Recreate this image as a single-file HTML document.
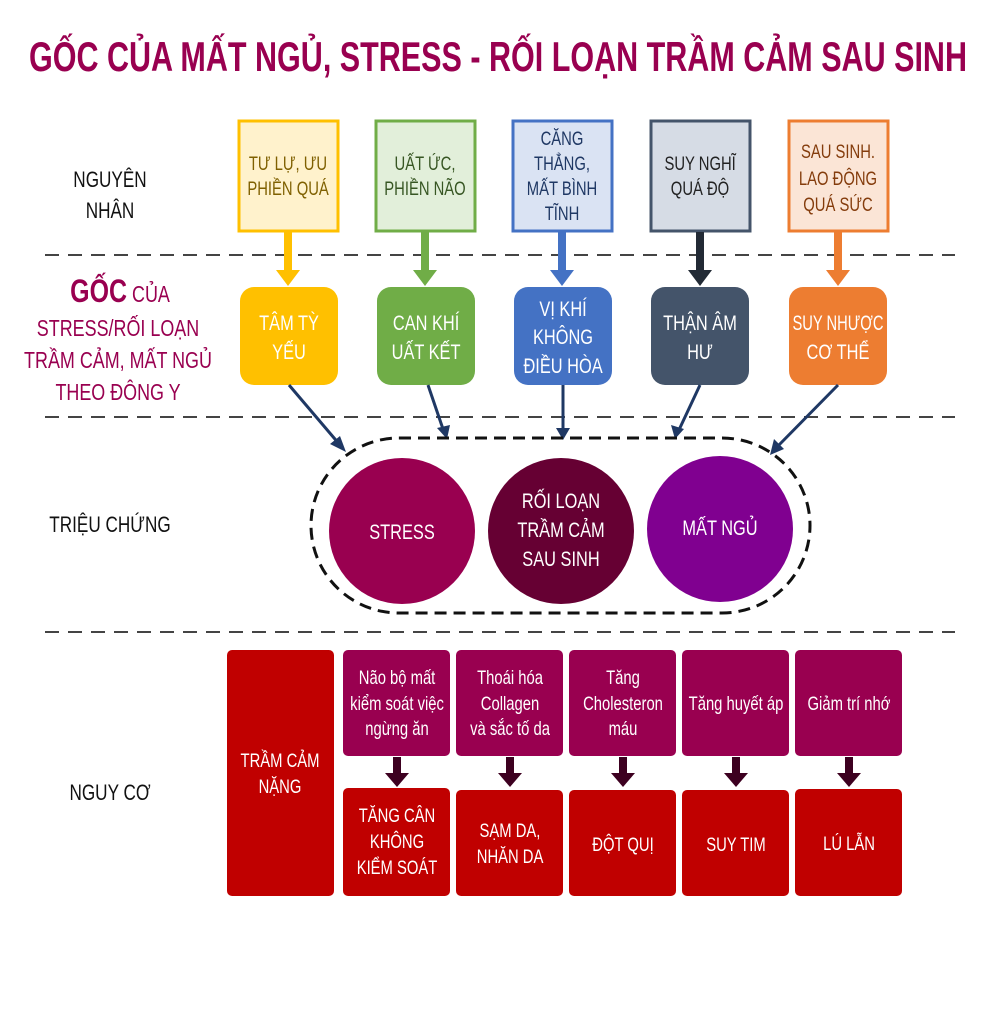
<!DOCTYPE html>
<html><head><meta charset="utf-8"><style>
html,body{margin:0;padding:0;background:#fff;}
svg{display:block;}
text{font-family:"Liberation Sans",sans-serif;transform-box:fill-box;transform-origin:center;transform:scaleX(0.78);}
text.t{transform:none;}
text.n{transform:scaleX(0.7);}
</style></head><body>
<svg width="997" height="1024" viewBox="0 0 997 1024" xmlns="http://www.w3.org/2000/svg">
<rect width="997" height="1024" fill="#fff"/>
<text class="t" x="498" y="71" text-anchor="middle" font-size="42" font-weight="bold" fill="#990050" textLength="938" lengthAdjust="spacingAndGlyphs">GỐC CỦA MẤT NGỦ, STRESS - RỐI LOẠN TRẦM CẢM SAU SINH</text>

<g stroke="#444" stroke-width="2" stroke-dasharray="14,9">
<line x1="45" y1="255" x2="955" y2="255"/>
<line x1="45" y1="417" x2="955" y2="417"/>
<line x1="45" y1="632" x2="955" y2="632"/>
</g>

<g font-size="22" text-anchor="middle" fill="#111">
<text x="110" y="187">NGUYÊN</text>
<text x="110" y="218">NHÂN</text>
<text x="110" y="532">TRIỆU CHỨNG</text>
<text x="110" y="800">NGUY CƠ</text>
</g>
<g text-anchor="middle" fill="#990050" font-size="23">
<text x="120" y="302"><tspan font-size="32" font-weight="bold">GỐC</tspan> CỦA</text>
<text x="118" y="336">STRESS/RỐI LOẠN</text>
<text x="118" y="368">TRẦM CẢM, MẤT NGỦ</text>
<text x="118" y="400">THEO ĐÔNG Y</text>
</g>

<g stroke-width="3">
<rect x="239" y="121" width="99" height="110" fill="#fff2cc" stroke="#ffc000"/>
<rect x="376" y="121" width="99" height="110" fill="#e2efda" stroke="#70ad47"/>
<rect x="513" y="121" width="99" height="110" fill="#dae3f3" stroke="#4472c4"/>
<rect x="651" y="121" width="99" height="110" fill="#d6dce5" stroke="#44546a"/>
<rect x="789" y="121" width="99" height="110" fill="#fbe5d6" stroke="#ed7d31"/>
</g>
<g font-size="19" text-anchor="middle">
<text x="288" y="170" fill="#7f6000">TƯ LỰ, ƯU</text><text x="288" y="195" fill="#7f6000">PHIỀN QUÁ</text>
<text x="425" y="170" fill="#375623">UẤT ỨC,</text><text x="425" y="195" fill="#375623">PHIỀN NÃO</text>
<text x="562" y="145" fill="#1f3864">CĂNG</text><text x="562" y="170" fill="#1f3864">THẲNG,</text><text x="562" y="195" fill="#1f3864">MẤT BÌNH</text><text x="562" y="220" fill="#1f3864">TĨNH</text>
<text x="700" y="170" fill="#222">SUY NGHĨ</text><text x="700" y="195" fill="#222">QUÁ ĐỘ</text>
<text x="838" y="158" fill="#843c0c">SAU SINH.</text><text x="838" y="185" fill="#843c0c">LAO ĐỘNG</text><text x="838" y="211" fill="#843c0c">QUÁ SỨC</text>
</g>
<g>
<rect x="284" y="232" width="8" height="38" fill="#ffc000"/><polygon points="276,270 300,270 288,286" fill="#ffc000"/>
<rect x="421" y="232" width="8" height="38" fill="#70ad47"/><polygon points="413,270 437,270 425,286" fill="#70ad47"/>
<rect x="558" y="232" width="8" height="38" fill="#4472c4"/><polygon points="550,270 574,270 562,286" fill="#4472c4"/>
<rect x="696" y="232" width="8" height="38" fill="#222a35"/><polygon points="688,270 712,270 700,286" fill="#222a35"/>
<rect x="834" y="232" width="8" height="38" fill="#ed7d31"/><polygon points="826,270 850,270 838,286" fill="#ed7d31"/>
</g>
<rect x="240" y="287" width="98" height="98" rx="14" fill="#ffc000"/>
<rect x="377" y="287" width="98" height="98" rx="14" fill="#70ad47"/>
<rect x="514" y="287" width="98" height="98" rx="14" fill="#4472c4"/>
<rect x="651" y="287" width="98" height="98" rx="14" fill="#44546a"/>
<rect x="789" y="287" width="98" height="98" rx="14" fill="#ed7d31"/>
<g font-size="21" text-anchor="middle" fill="#fff">
<text x="289" y="330">TÂM TỲ</text><text x="289" y="359">YẾU</text>
<text x="426" y="330">CAN KHÍ</text><text x="426" y="359">UẤT KẾT</text>
<text x="563" y="316">VỊ KHÍ</text><text x="563" y="344">KHÔNG</text><text x="563" y="373">ĐIỀU HÒA</text>
<text x="700" y="330">THẬN ÂM</text><text x="700" y="359">HƯ</text>
<text class="n" x="838" y="330">SUY NHƯỢC</text><text x="838" y="359">CƠ THỂ</text>
</g>
<g stroke="#1f3864" stroke-width="3" fill="none">
<line x1="289" y1="385" x2="340" y2="445"/>
<line x1="428" y1="385" x2="444" y2="432"/>
<line x1="563" y1="385" x2="563" y2="432"/>
<line x1="700" y1="385" x2="678" y2="432"/>
<line x1="838" y1="385" x2="776" y2="448"/>
</g>
<g fill="#1f3864">
<polygon points="346,452 330,444 340,436"/>
<polygon points="447,439 437,428 450,425"/>
<polygon points="563,440 556,428 570,428"/>
<polygon points="675,439 671,425 684,429"/>
<polygon points="770,455 774,439 784,449"/>
</g>
<rect x="311" y="438" width="499" height="175" rx="88" fill="none" stroke="#111" stroke-width="3" stroke-dasharray="12,7"/>
<circle cx="402" cy="531" r="73" fill="#990050"/>
<circle cx="561" cy="531" r="73" fill="#660033"/>
<circle cx="720" cy="529" r="73" fill="#800090"/>
<g font-size="21" text-anchor="middle" fill="#fff">
<text x="402" y="539">STRESS</text>
<text x="561" y="508">RỐI LOẠN</text><text x="561" y="537">TRẦM CẢM</text><text x="561" y="566">SAU SINH</text>
<text x="720" y="535">MẤT NGỦ</text>
</g>
<rect x="227" y="650" width="107" height="246" rx="5" fill="#c00000"/>
<g fill="#990050">
<rect x="343" y="650" width="107" height="106" rx="5"/>
<rect x="456" y="650" width="107" height="106" rx="5"/>
<rect x="569" y="650" width="107" height="106" rx="5"/>
<rect x="682" y="650" width="107" height="106" rx="5"/>
<rect x="795" y="650" width="107" height="106" rx="5"/>
</g>
<g fill="#c00000">
<rect x="343" y="788" width="107" height="108" rx="5"/>
<rect x="456" y="790" width="107" height="106" rx="5"/>
<rect x="569" y="790" width="107" height="106" rx="5"/>
<rect x="682" y="790" width="107" height="106" rx="5"/>
<rect x="795" y="789" width="107" height="107" rx="5"/>
</g>
<g fill="#3d0020">
<rect x="393" y="757" width="8" height="17"/><polygon points="385,773 409,773 397,787"/>
<rect x="506" y="757" width="8" height="17"/><polygon points="498,773 522,773 510,787"/>
<rect x="619" y="757" width="8" height="17"/><polygon points="611,773 635,773 623,787"/>
<rect x="732" y="757" width="8" height="17"/><polygon points="724,773 748,773 736,787"/>
<rect x="845" y="757" width="8" height="17"/><polygon points="837,773 861,773 849,787"/>
</g>
<g font-size="19" text-anchor="middle" fill="#fff">
<text x="280" y="767">TRẦM CẢM</text><text x="280" y="793">NẶNG</text>
<text x="397" y="684">Não bộ mất</text><text x="397" y="710">kiểm soát việc</text><text x="397" y="735">ngừng ăn</text>
<text x="510" y="684">Thoái hóa</text><text x="510" y="710">Collagen</text><text x="510" y="735">và sắc tố da</text>
<text x="623" y="684">Tăng</text><text x="623" y="710">Cholesteron</text><text x="623" y="735">máu</text>
<text x="736" y="710">Tăng huyết áp</text>
<text x="849" y="710">Giảm trí nhớ</text>
<text x="397" y="822">TĂNG CÂN</text><text x="397" y="848">KHÔNG</text><text x="397" y="874">KIỂM SOÁT</text>
<text x="510" y="837">SẠM DA,</text><text x="510" y="863">NHĂN DA</text>
<text x="623" y="851">ĐỘT QUỊ</text>
<text x="736" y="851">SUY TIM</text>
<text x="849" y="850">LÚ LẪN</text>
</g>
</svg>
</body></html>
